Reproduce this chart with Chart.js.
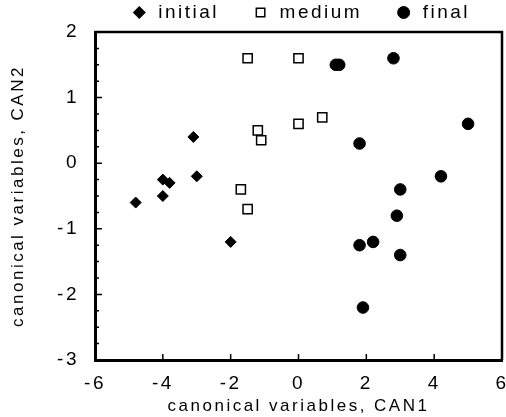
<!DOCTYPE html>
<html>
<head>
<meta charset="utf-8">
<script src="https://cdn.jsdelivr.net/npm/chart.js@4"></script>
<style>
  html, body { margin: 0; padding: 0; background: #fff; }
  #wrap { width: 506px; height: 417px; }
</style>
</head>
<body>
<div id="wrap"><canvas id="chart"></canvas></div>
<script>
// canonical scores
var initialX = [-4.8, -4.0, -3.8, -4.0, -3.1, -3.0, -2.0];
var initialY = [-0.6, -0.25, -0.3, -0.5, 0.4, -0.2, -1.2];

var mediumX = [-1.5, 0.0, -1.2, -1.1, 0.0, 0.7, -1.7, -1.5];
var mediumY = [1.6, 1.6, 0.5, 0.35, 0.6, 0.7, -0.4, -0.7];

var finalX = [1.1, 1.2, 2.8, 5.0, 1.8, 4.2, 3.0, 2.9, 1.8, 2.2, 3.0, 1.9];
var finalY = [1.5, 1.5, 1.6, 0.6, 0.3, -0.2, -0.4, -0.8, -1.25, -1.2, -1.4, -2.2];

var xTicks = [-6, -4, -2, 0, 2, 4, 6];
var yTicks = [-3, -2, -1, 0, 1, 2];

function pts(xs, ys) {
    return xs.map(function (x, i) { return {x: x, y: ys[i]}; });
}

var FONT = "'Liberation Sans', Arial, sans-serif";

// the old figure has widely spaced lettering
var spacingPlugin = {
    id: 'spacing',
    beforeLayout: function (chart) { chart.ctx.letterSpacing = '2.5px'; },
    beforeDraw: function (chart) { chart.ctx.letterSpacing = '2.5px'; }
};

// frame on top/right and the inward tick marks
var framePlugin = {
    id: 'frame',
    afterDraw: function (chart) {
        var ctx = chart.ctx, a = chart.chartArea;
        var xs = chart.scales.x, ys = chart.scales.y;
        ctx.save();
        ctx.strokeStyle = '#000';
        ctx.lineWidth = 2.5;
        ctx.beginPath();
        ctx.moveTo(a.left, a.top);
        ctx.lineTo(a.right, a.top);
        ctx.lineTo(a.right, a.bottom);
        ctx.stroke();

        ctx.lineWidth = 1.5;
        ctx.beginPath();
        xTicks.forEach(function (v) {
            var px = xs.getPixelForValue(v);
            ctx.moveTo(px, a.bottom);
            ctx.lineTo(px, a.bottom - 6);
        });
        for (var v = -3; v <= 2.001; v += 0.25) {
            var py = ys.getPixelForValue(v);
            var len = Math.abs(v - Math.round(v)) < 0.01 ? 7 : 4;
            ctx.moveTo(a.left, py);
            ctx.lineTo(a.left + len, py);
        }
        ctx.stroke();
        ctx.restore();
    }
};

new Chart(document.getElementById('chart'), {
    type: 'scatter',
    data: {
        datasets: [
            {
                label: 'initial',
                data: pts(initialX, initialY),
                pointStyle: 'rectRot',
                pointRadius: 5.5,
                backgroundColor: '#000',
                borderColor: '#000',
                borderWidth: 1
            },
            {
                label: 'medium',
                data: pts(mediumX, mediumY),
                pointStyle: 'rect',
                pointRadius: 6.5,
                backgroundColor: '#fff',
                borderColor: '#000',
                borderWidth: 1.5
            },
            {
                label: 'final',
                data: pts(finalX, finalY),
                pointStyle: 'circle',
                pointRadius: 5.8,
                backgroundColor: '#000',
                borderColor: '#000',
                borderWidth: 1
            }
        ]
    },
    options: {
        responsive: true,
        maintainAspectRatio: false,
        animation: false,
        layout: {
            autoPadding: false,
            padding: { left: 0, right: 4, top: -29, bottom: 0 }
        },
        plugins: {
            tooltip: { enabled: false },
            legend: {
                position: 'top',
                align: 'end',
                labels: {
                    usePointStyle: true,
                    boxWidth: 19,
                    boxHeight: 8.5,
                    padding: 32,
                    color: '#000',
                    font: { family: FONT, size: 19 }
                }
            }
        },
        scales: {
            x: {
                type: 'linear',
                min: -6,
                max: 6,
                afterFit: function (s) {
                    s.height = 57;
                    s.paddingLeft = 0;
                    s.paddingRight = 0;
                },
                afterBuildTicks: function (s) {
                    s.ticks = xTicks.map(function (v) { return {value: v}; });
                },
                grid: { display: false },
                border: { display: true, color: '#000', width: 3 },
                ticks: {
                    color: '#000',
                    padding: 4,
                    font: { family: FONT, size: 19 }
                },
                title: {
                    display: true,
                    text: 'canonical variables, CAN1',
                    color: '#000',
                    padding: { top: 2, bottom: 0 },
                    font: { family: FONT, size: 17 }
                }
            },
            y: {
                type: 'linear',
                min: -3,
                max: 2,
                afterFit: function (s) { s.width = 95; },
                afterBuildTicks: function (s) {
                    s.ticks = yTicks.map(function (v) { return {value: v}; });
                },
                grid: { display: false },
                border: { display: true, color: '#000', width: 3 },
                ticks: {
                    color: '#000',
                    padding: 8,
                    font: { family: FONT, size: 19 }
                },
                title: {
                    display: true,
                    text: 'canonical variables, CAN2',
                    color: '#000',
                    padding: { top: 8, bottom: 0 },
                    font: { family: FONT, size: 17 }
                }
            }
        }
    },
    plugins: [spacingPlugin, framePlugin]
});
</script>
</body>
</html>
